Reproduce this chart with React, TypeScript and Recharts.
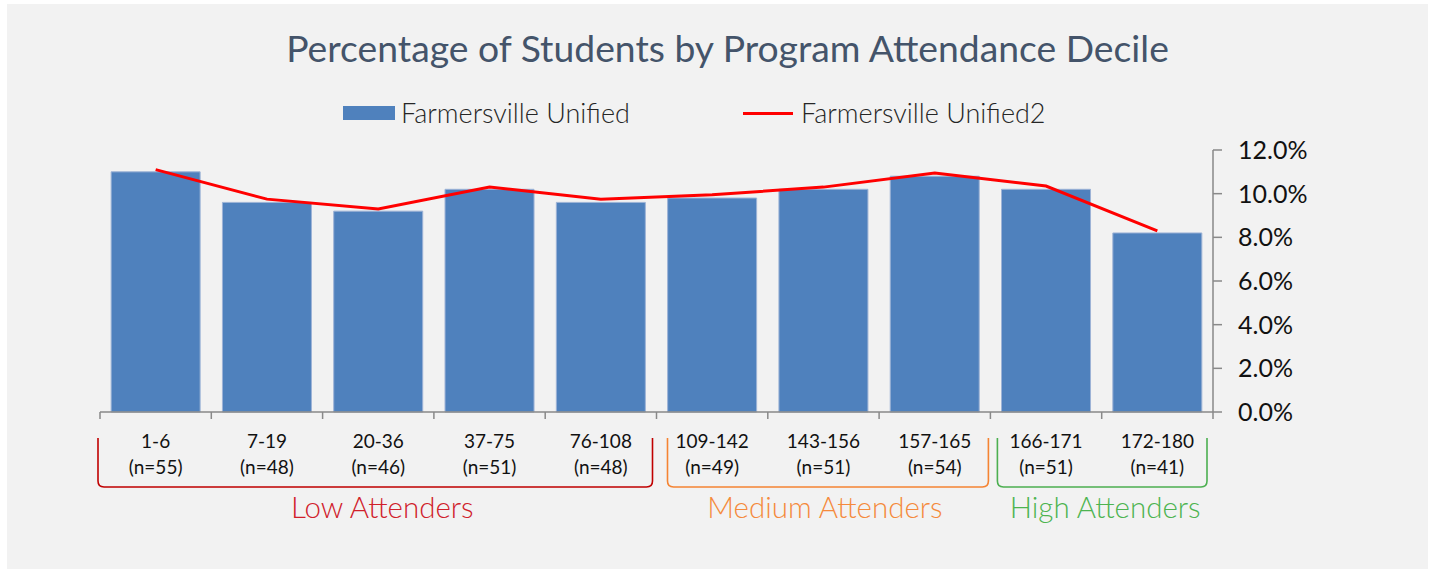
import React from 'react';
import { ComposedChart, Bar, Line, XAxis, YAxis, Legend } from 'recharts';

const categories = ['1-6', '7-19', '20-36', '37-75', '76-108', '109-142', '143-156', '157-165', '166-171', '172-180'];
const counts = [55, 48, 46, 51, 48, 49, 51, 54, 51, 41];
const unifiedValues = [11.0, 9.6, 9.2, 10.2, 9.6, 9.8, 10.2, 10.8, 10.2, 8.2];
const unified2Values = [11.1, 9.75, 9.3, 10.3, 9.75, 9.95, 10.3, 10.95, 10.35, 8.3];
const yTicks = [0, 2, 4, 6, 8, 10, 12];
const groupLabels = ['Low Attenders', 'Medium Attenders', 'High Attenders'];
const groupStarts = [0, 5, 8];
const groupCounts = [5, 3, 2];

// styling for the group brackets (kept apart from the data)
const groupStyles = [
  { color: '#c00000', text: '#d0202a', insetL: -2, insetR: 4, labelDx: 7 },
  { color: '#f58433', text: '#f58a3c', insetL: 11, insetR: 2, labelDx: -3 },
  { color: '#4caf50', text: '#4db450', insetL: 7, insetR: 6, labelDx: 3 },
];

const data = categories.map((c, i) => ({
  name: c,
  n: counts[i],
  unified: unifiedValues[i],
  unified2: unified2Values[i],
}));

const W = 1421;
const H = 565;
const MARGIN = { top: 120, right: 95, left: 93, bottom: 117 };
const Y_AXIS_W = 120;
const X_AXIS_H = 40;
const PLOT_W = W - MARGIN.left - MARGIN.right - Y_AXIS_W;
const AXIS_Y = H - MARGIN.bottom - X_AXIS_H;
const FONT = 'Lato, "Open Sans", sans-serif';

const CatTick = (props: any) => {
  const { x, payload, index } = props;
  const i = payload?.index ?? index;
  const bw = PLOT_W / categories.length;
  const cx = x;
  const gi = groupStarts.indexOf(i);
  const gray = '#898989';
  return (
    <g>
      <line x1={cx - bw / 2} x2={cx - bw / 2} y1={AXIS_Y} y2={AXIS_Y + 7} stroke={gray} strokeWidth={1.5} />
      {i === categories.length - 1 && (
        <line x1={cx + bw / 2} x2={cx + bw / 2} y1={AXIS_Y} y2={AXIS_Y + 7} stroke={gray} strokeWidth={1.5} />
      )}
      <text x={cx} y={AXIS_Y + 36} textAnchor="middle" fontFamily={FONT} fontSize={19} fill="#111">
        {payload.value}
      </text>
      <text x={cx} y={AXIS_Y + 62} textAnchor="middle" fontFamily={FONT} fontSize={19} fill="#111">
        {`(n=${counts[i]})`}
      </text>
      {gi >= 0 && (() => {
        const st = groupStyles[gi];
        const x0 = cx - bw / 2 + st.insetL;
        const x1 = cx - bw / 2 + groupCounts[gi] * bw - st.insetR;
        const yT = AXIS_Y + 26;
        const yB = AXIS_Y + 75;
        const r = 6;
        const d = `M ${x0} ${yT} L ${x0} ${yB - r} Q ${x0} ${yB} ${x0 + r} ${yB} L ${x1 - r} ${yB} Q ${x1} ${yB} ${x1} ${yB - r} L ${x1} ${yT}`;
        return (
          <g>
            <path d={d} fill="none" stroke={st.color} strokeWidth={1.6} />
            <text x={(x0 + x1) / 2 + st.labelDx} y={AXIS_Y + 106} textAnchor="middle" fontFamily={FONT} fontWeight={300} fontSize={29.5} fill={st.text}>
              {groupLabels[gi]}
            </text>
          </g>
        );
      })()}
    </g>
  );
};

const LegendContent = () => (
  <div style={{ height: 26, fontFamily: FONT, fontWeight: 300, fontSize: 27, color: '#262626', position: 'relative' }}>
    <div style={{ position: 'absolute', left: 336, top: 6, width: 52, height: 14, background: '#4f81bd' }} />
    <div style={{ position: 'absolute', left: 394, top: -4, whiteSpace: 'nowrap' }}>Farmersville Unified</div>
    <div style={{ position: 'absolute', left: 736, top: 12, width: 50, height: 3, background: '#ff0000' }} />
    <div style={{ position: 'absolute', left: 794, top: -4, whiteSpace: 'nowrap' }}>Farmersville Unified2</div>
  </div>
);

export default function App() {
  return (
    <div style={{ position: 'absolute', left: 7, top: 4, width: W, height: H, background: '#f2f2f2' }}>
      <div style={{ position: 'absolute', left: 10, top: 21, width: W, textAlign: 'center', fontFamily: FONT, fontSize: 37.3, color: '#44546a', whiteSpace: 'nowrap' }}>
        Percentage of Students by Program Attendance Decile
      </div>
      <ComposedChart width={W} height={H} data={data} margin={MARGIN} barCategoryGap="10%">
        <Legend verticalAlign="top" align="left" content={<LegendContent />} wrapperStyle={{ top: 96, left: 0, width: W }} />
        <XAxis
          dataKey="name"
          height={X_AXIS_H}
          interval={0}
          tickLine={false}
          axisLine={{ stroke: '#898989', strokeWidth: 1.5 }}
          tick={<CatTick />}
        />
        <YAxis
          orientation="right"
          width={Y_AXIS_W}
          domain={[0, 12]}
          ticks={yTicks}
          tickFormatter={(v: number) => `${v.toFixed(1)}%`}
          tickSize={9}
          tickMargin={16}
          axisLine={{ stroke: '#898989', strokeWidth: 1.5 }}
          tickLine={{ stroke: '#898989', strokeWidth: 1.5 }}
          tick={{ fontFamily: FONT, fontSize: 25, fill: '#111', textAnchor: 'start' }}
          interval={0}
        />
        <Bar dataKey="unified" name="Farmersville Unified" fill="#4f81bd" stroke="#9db3d6" strokeWidth={1} isAnimationActive={false} />
        <Line dataKey="unified2" name="Farmersville Unified2" type="linear" stroke="#ff0000" strokeWidth={3} dot={false} activeDot={false} isAnimationActive={false} />
      </ComposedChart>
    </div>
  );
}
